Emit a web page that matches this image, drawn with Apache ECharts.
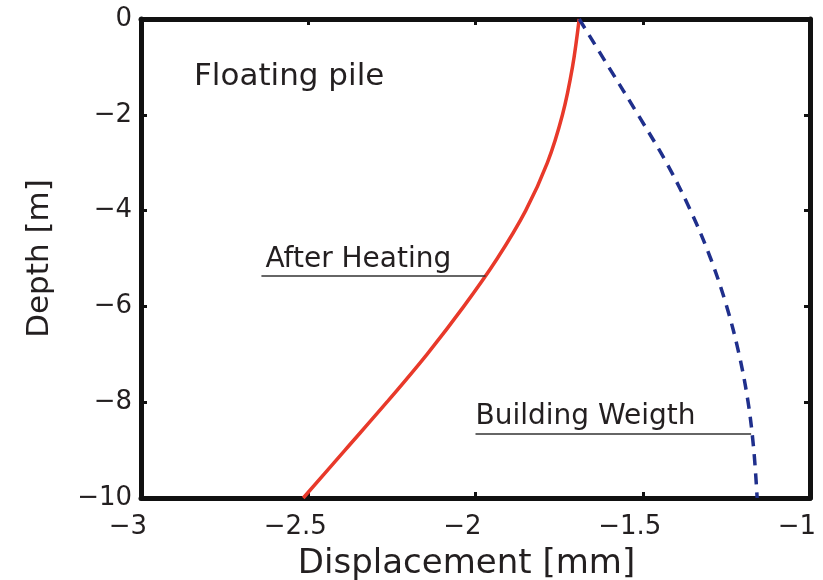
<!DOCTYPE html>
<html>
<head>
<meta charset="utf-8">
<style>
  html, body { margin: 0; padding: 0; background: #fff; }
  #chart { width: 823px; height: 580px; }
</style>
<script src="https://cdn.jsdelivr.net/npm/echarts@6/dist/echarts.min.js"></script>
</head>
<body>
<div id="chart"></div>
<script>
// Pile displacement profiles along depth
const depth = [0, -1, -2, -3, -4, -5, -6, -7, -8, -9, -10];
const afterHeating = [-1.69, -1.71, -1.74, -1.785, -1.85, -1.935, -2.035, -2.145, -2.265, -2.39, -2.515];
const buildingWeight = [-1.69, -1.602, -1.514, -1.429, -1.357, -1.297, -1.249, -1.212, -1.185, -1.168, -1.158];

const xTicks = [-3, -2.5, -2, -1.5, -1];
const yTicks = [0, -2, -4, -6, -8, -10];

// Leader line anchors for the curve labels
const heatingLabelY = -5.37;
const heatingLabelStartX = -2.64;
const heatingLabelEndX = -1.97;
const weightLabelY = -8.66;
const weightLabelStartX = -2.0;
const weightLabelEndX = -1.176;

const FONT = '"DejaVu Sans", sans-serif';
const TXT = '#231f20';

const minus = v => String(v).replace('-', '\u2212');

const pairs = (xs) => xs.map((x, i) => [x, depth[i]]);

const frameAxis = {
  axisLine: { show: true, onZero: false, lineStyle: { color: '#111', width: 5 } },
  axisTick: { show: true, inside: true, length: 6, lineStyle: { color: '#111', width: 3 } },
  splitLine: { show: false }
};

const chart = echarts.init(document.getElementById('chart'), null, { renderer: 'canvas' });

chart.setOption({
  backgroundColor: '#fff',
  animation: false,
  title: {
    text: 'Floating pile',
    left: 189,
    top: 56,
    textStyle: { fontFamily: FONT, fontSize: 31, fontWeight: 'normal', color: TXT }
  },
  grid: { left: 141, right: 13, top: 19, bottom: 82, containLabel: false, outerBoundsMode: 'none' },
  xAxis: [
    Object.assign({
      type: 'value', min: -3, max: -1, interval: 0.5, position: 'bottom',
      name: 'Displacement [mm]', nameLocation: 'middle', nameGap: 49,
      nameTextStyle: { fontFamily: FONT, fontSize: 34, color: TXT, padding: [0, 18, 0, 0] },
      // numbers sit centred on their ticks, the minus sign hangs to the left
      axisLabel: { fontFamily: FONT, fontSize: 26, color: TXT, margin: 16, padding: [0, 26, 0, 0], formatter: minus }
    }, frameAxis),
    Object.assign({
      type: 'value', min: -3, max: -1, interval: 0.5, position: 'top',
      axisLabel: { show: false }
    }, frameAxis)
  ],
  yAxis: [
    Object.assign({
      type: 'value', min: -10, max: 0, interval: 2, position: 'left',
      name: 'Depth [m]', nameLocation: 'middle', nameGap: 86,
      nameTextStyle: { fontFamily: FONT, fontSize: 31, color: TXT },
      axisLabel: { fontFamily: FONT, fontSize: 26, color: TXT, margin: 9, formatter: minus }
    }, frameAxis),
    Object.assign({
      type: 'value', min: -10, max: 0, interval: 2, position: 'right',
      axisLabel: { show: false }
    }, frameAxis)
  ],
  series: [
    {
      name: 'After Heating',
      type: 'line',
      data: pairs(afterHeating),
      smooth: 0.35,
      showSymbol: false,
      lineStyle: { color: '#e8392a', width: 3.5, join: 'round' },
      z: 3,
      markLine: {
        silent: true,
        symbol: 'none',
        lineStyle: { color: '#333', width: 1.5, type: 'solid' },
        label: {
          show: true, position: 'insideStartTop', distance: [4, 3],
          formatter: 'After Heating',
          fontFamily: FONT, fontSize: 28, color: TXT
        },
        data: [[{ coord: [heatingLabelStartX, heatingLabelY] }, { coord: [heatingLabelEndX, heatingLabelY] }]]
      }
    },
    {
      name: 'Building Weigth',
      type: 'line',
      data: pairs(buildingWeight),
      smooth: 0.35,
      showSymbol: false,
      lineStyle: { color: '#1f2f8c', width: 3.5, type: [11, 8], join: 'round' },
      z: 3,
      markLine: {
        silent: true,
        symbol: 'none',
        lineStyle: { color: '#333', width: 1.5, type: 'solid' },
        label: {
          show: true, position: 'insideStartTop', distance: [0, 3],
          formatter: 'Building Weigth',
          fontFamily: FONT, fontSize: 28, color: TXT
        },
        data: [[{ coord: [weightLabelStartX, weightLabelY] }, { coord: [weightLabelEndX, weightLabelY] }]]
      }
    }
  ]
});
</script>
</body>
</html>
